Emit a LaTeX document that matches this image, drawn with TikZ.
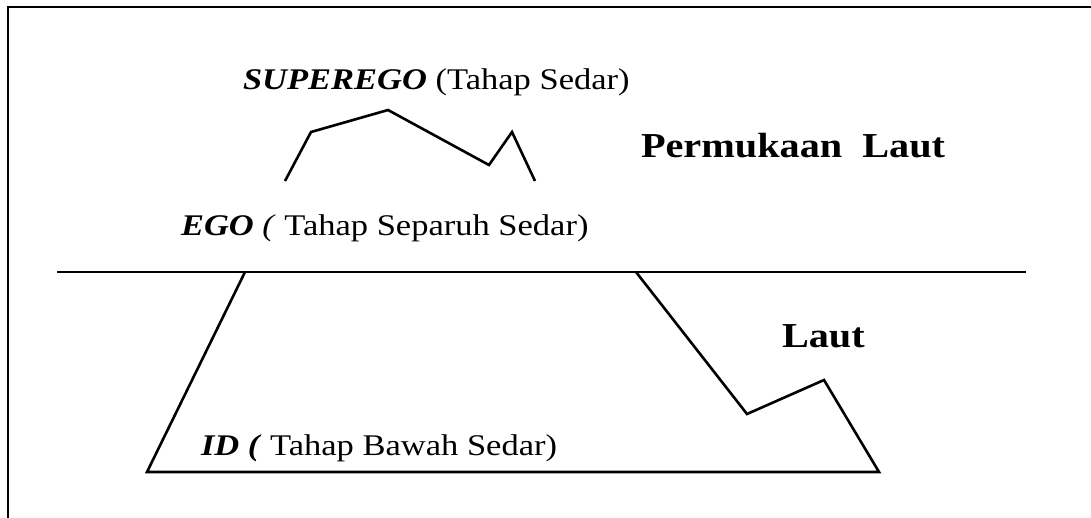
\documentclass[tikz,border=0pt]{standalone}
\usepackage{fontspec}
\setmainfont{Liberation Serif}
\begin{document}
\begin{tikzpicture}[x=1pt,y=-1pt,
  line/.style={line width=2.6pt,line join=miter,black},
  frame/.style={line width=2.4pt,black},
  lbl/.style={inner sep=0pt,outer sep=0pt,anchor=base west,font=\fontsize{30}{36}\selectfont},
  blbl/.style={inner sep=0pt,outer sep=0pt,anchor=base west,font=\fontsize{35}{42}\selectfont\bfseries}]
\useasboundingbox (0,0) rectangle (1091,517);
% frame (extends beyond right and bottom edges)
\coordinate (fbl) at (8,530);
\coordinate (ftl) at (8,7);
\coordinate (ftr) at (1100,7);
\begin{scope}
\clip (0,0) rectangle (1091,517);
\draw[frame] (fbl) -- (ftl) -- (ftr);
\end{scope}
% sea surface
\coordinate (s1) at (57,272);
\coordinate (s2) at (1026,272);
\draw[line] (s1) -- (s2);
% mountain above surface
\coordinate (m1) at (285,181);
\coordinate (m2) at (311,132);
\coordinate (m3) at (388,110);
\coordinate (m4) at (489,165);
\coordinate (m5) at (512,132);
\coordinate (m6) at (535,181);
\draw[line] (m1) -- (m2) -- (m3) -- (m4) -- (m5) -- (m6);
% mass below surface
\coordinate (b1) at (245,272);
\coordinate (b2) at (147,472);
\coordinate (b3) at (879,472);
\coordinate (b4) at (824,380);
\coordinate (b5) at (747,414);
\coordinate (b6) at (636,272);
\draw[line] (b1) -- (b2) -- (b3) -- (b4) -- (b5) -- (b6);
% labels
\node[lbl] (superego) at (243,89) {\scalebox{1.15}[1]{\textbf{\textit{SUPEREGO}} (Tahap Sedar)}};
\node[lbl] (ego) at (181,235) {\scalebox{1.15}[1]{\textbf{\textit{EGO}} \textit{(} Tahap Separuh Sedar)}};
\node[lbl] (id) at (201,455) {\scalebox{1.15}[1]{\textbf{\textit{ID (}} Tahap Bawah Sedar)}};
\node[blbl] (surface) at (641,157) {\scalebox{1.15}[1]{Permukaan\ \ Laut}};
\node[blbl] (sea) at (782,347) {\scalebox{1.15}[1]{Laut}};
\end{tikzpicture}
\end{document}
